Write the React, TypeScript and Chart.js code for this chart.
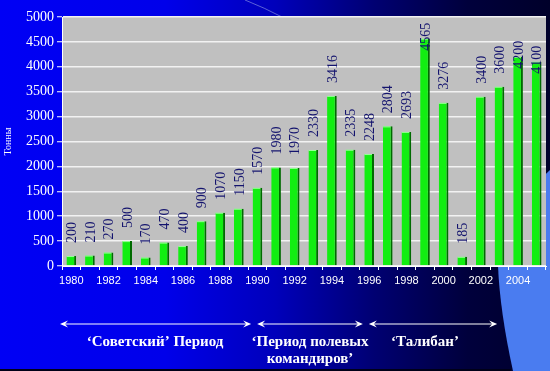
import React, { useEffect, useRef } from 'react';
import { Chart, registerables } from 'chart.js';

Chart.register(...registerables);

const years = [
  '1980', '1981', '1982', '1983', '1984', '1985', '1986', '1987', '1988', '1989',
  '1990', '1991', '1992', '1993', '1994', '1995', '1996', '1997', '1998', '1999',
  '2000', '2001', '2002', '2003', '2004', '2005',
];
const tonnes = [
  200, 210, 270, 500, 170, 470, 400, 900, 1070, 1150,
  1570, 1980, 1970, 2330, 3416, 2335, 2248, 2804, 2693, 4565,
  3276, 185, 3400, 3600, 4200, 4100,
];
const yAxisTitle = 'Тонны';
const yMax = 5000;
const yStep = 500;

const periodLabels = [
  ['‘Советский’ Период'],
  ['‘Период полевых', 'командиров’'],
  ['‘Талибан’'],
];
const periodStart = ['1980', '1990', '1996'];
const periodEnd = ['1989', '1995', '2002'];

const SERIF = '"Liberation Serif", "DejaVu Serif", serif';
const SANS = '"Liberation Sans", Arial, sans-serif';

const decorPlugin = {
  id: 'decor',
  beforeDraw(chart: any) {
    const { ctx, chartArea } = chart;
    ctx.save();
    // light-blue template shape at bottom right
    ctx.fillStyle = '#4a7cf0';
    ctx.beginPath();
    ctx.moveTo(550, 170);
    ctx.quadraticCurveTo(500, 215, 498, 266);
    ctx.quadraticCurveTo(500, 312, 513, 371);
    ctx.lineTo(550, 371);
    ctx.closePath();
    ctx.fill();
    // thin decorative line at top
    ctx.strokeStyle = 'rgba(150,160,230,0.6)';
    ctx.lineWidth = 1;
    ctx.beginPath();
    ctx.moveTo(245, 0);
    ctx.quadraticCurveTo(265, 8, 282, 17);
    ctx.stroke();
    // dark bottom line
    ctx.fillStyle = '#000018';
    ctx.fillRect(0, 369, 511, 2);
    // plot area
    ctx.fillStyle = '#c0c0c0';
    ctx.fillRect(chartArea.left, chartArea.top, chartArea.right - chartArea.left, chartArea.bottom - chartArea.top);
    ctx.restore();
  },
  afterDatasetsDraw(chart: any) {
    const { ctx, chartArea } = chart;
    const meta = chart.getDatasetMeta(0);
    ctx.save();
    // bar tops
    meta.data.forEach((bar: any) => {
      const w = bar.width;
      ctx.fillStyle = '#9dff9d';
      ctx.fillRect(bar.x - w / 2, bar.y, w - 2, 1);
    });
    // value labels
    ctx.font = '14px ' + SERIF;
    ctx.fillStyle = '#14146e';
    ctx.textAlign = 'left';
    ctx.textBaseline = 'middle';
    meta.data.forEach((bar: any, i: number) => {
      const txt = String(tonnes[i]);
      const tw = ctx.measureText(txt).width;
      let start = bar.y - 13;
      if (start - tw < chartArea.top + 18) start = bar.y + 12;
      ctx.save();
      ctx.translate(bar.x + 1, start);
      ctx.rotate(-Math.PI / 2);
      ctx.fillText(txt, 0, 0);
      ctx.restore();
    });
    ctx.restore();
  },
  afterDraw(chart: any) {
    const { ctx } = chart;
    const xs = chart.scales.x;
    const px = (v: number) => xs.getPixelForValue(v);
    ctx.save();
    ctx.strokeStyle = '#ffffff';
    ctx.fillStyle = '#ffffff';
    ctx.lineWidth = 1;
    const ay = 324;
    periodLabels.forEach((lines, k) => {
      const a = years.indexOf(periodStart[k]) - 0.5;
      const b = years.indexOf(periodEnd[k]) + 0.5;
      const x1 = px(a) + (k === 0 ? -2 : 9);
      const x2 = px(b) + (k === 2 ? 7 : 3);
      ctx.beginPath();
      ctx.moveTo(x1 + 2, ay);
      ctx.lineTo(x2 - 2, ay);
      ctx.stroke();
      // arrow heads
      ctx.beginPath();
      ctx.moveTo(x1, ay);
      ctx.lineTo(x1 + 8, ay - 3.5);
      ctx.lineTo(x1 + 5, ay);
      ctx.lineTo(x1 + 8, ay + 3.5);
      ctx.closePath();
      ctx.fill();
      ctx.beginPath();
      ctx.moveTo(x2, ay);
      ctx.lineTo(x2 - 8, ay - 3.5);
      ctx.lineTo(x2 - 5, ay);
      ctx.lineTo(x2 - 8, ay + 3.5);
      ctx.closePath();
      ctx.fill();
      // labels
      const cx = (px(a) + px(b)) / 2 + (k === 1 ? 6 : 0);
      ctx.font = 'bold 15px ' + SERIF;
      ctx.textAlign = 'center';
      ctx.textBaseline = 'alphabetic';
      lines.forEach((ln, j) => {
        ctx.fillText(ln, cx, 346 + j * 17);
      });
    });
    ctx.restore();
  },
};

export default function App() {
  const ref = useRef<HTMLCanvasElement | null>(null);
  useEffect(() => {
    if (!ref.current) return;
    const chart = new Chart(ref.current, {
      type: 'bar',
      data: {
        labels: years,
        datasets: [
          {
            data: tonnes,
            backgroundColor: '#12ee12',
            borderColor: '#006a00',
            borderWidth: { left: 0, right: 2, top: 0, bottom: 0 },
            borderSkipped: false,
            barPercentage: 0.52,
            categoryPercentage: 1,
          },
        ],
      },
      options: {
        responsive: false,
        animation: false,
        layout: { padding: { top: 17, right: 4, bottom: 0, left: 0 } },
        plugins: { legend: { display: false }, tooltip: { enabled: false } },
        scales: {
          x: {
            afterFit: (s: any) => { s.height = 105; },
            grid: { drawOnChartArea: false, tickLength: 4, color: '#ffffff', offset: true },
            border: { color: '#ffffff', width: 1 },
            ticks: {
              autoSkip: false,
              maxRotation: 0,
              padding: 4,
              color: '#ffffff',
              font: { family: SANS, size: 11 },
              callback: (_v: any, i: number) => (i % 2 === 0 ? years[i] : ''),
            },
          },
          y: {
            min: 0,
            max: yMax,
            afterFit: (s: any) => { s.width = 62; },
            grid: { color: '#f2f2f2', lineWidth: 1.5, tickLength: 5, tickColor: '#ffffff', tickWidth: 1 },
            border: { color: '#ffffff', width: 1 },
            ticks: {
              stepSize: yStep,
              padding: 3,
              color: '#ffffff',
              font: { family: SERIF, size: 14 },
              callback: (v: any) => String(v),
            },
            title: {
              display: true,
              text: yAxisTitle,
              color: '#ffffff',
              font: { family: SERIF, size: 10 },
              padding: 2,
            },
          },
        },
      },
      plugins: [decorPlugin],
    });
    return () => chart.destroy();
  }, []);
  return (
    <div
      style={{
        position: 'fixed',
        left: 0,
        top: 0,
        width: 550,
        height: 371,
        background:
          'linear-gradient(90deg, #0000f5 0%, #0000ea 30%, #0000bb 50%, #000072 68%, #00003c 85%, #00002a 100%)',
      }}
    >
      <canvas ref={ref} width={550} height={371} style={{ display: 'block' }} />
    </div>
  );
}
